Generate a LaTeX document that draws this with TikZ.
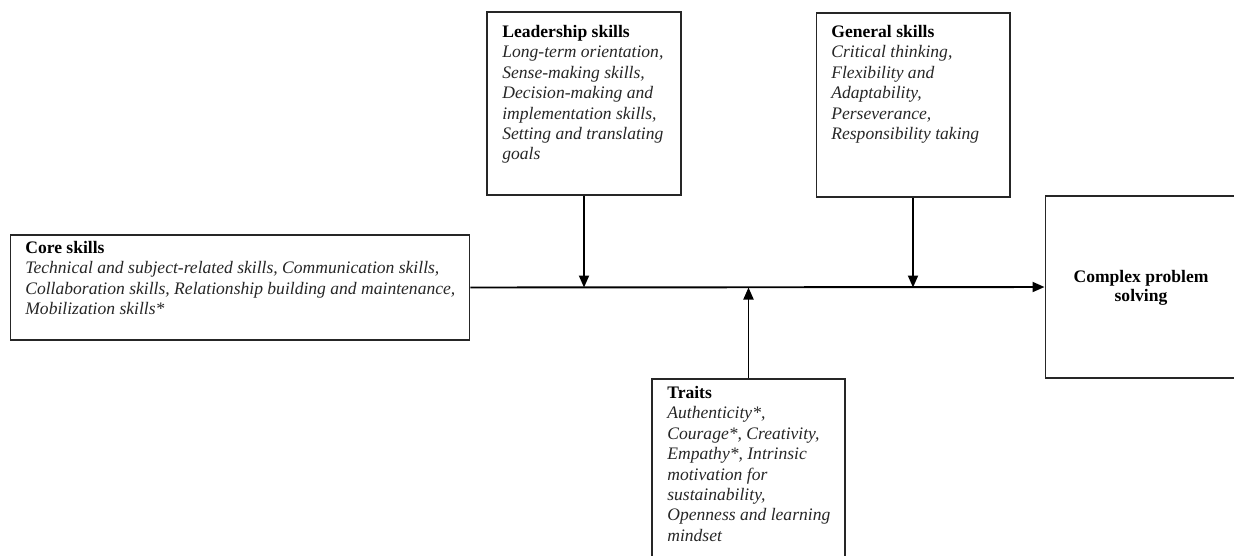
\documentclass[tikz,border=0pt]{standalone}
\usepackage{fontspec}
\setmainfont{Liberation Serif}
\usetikzlibrary{arrows.meta}
\begin{document}
\begin{tikzpicture}[x=0.02cm,y=-0.02cm,
  box/.style={draw=black!85,line width=0.6pt,rectangle,inner sep=0pt},
  txt/.style={anchor=north west,inner sep=0pt,align=left,text=black!85,font=\fontsize{10}{11.6}\selectfont},
  conn/.style={line width=1.1pt,-{Triangle[width=0.2cm,length=0.24cm]}}]
\useasboundingbox (0,0) rectangle (1234,555);
\clip (0,0) rectangle (1234,555);
\node[box,minimum width=9.2cm,minimum height=2.1cm] (core) at (240,287.5) {};
\node[box,minimum width=3.88cm,minimum height=3.66cm] (lead) at (584,103.5) {};
\node[box,minimum width=3.88cm,minimum height=3.68cm] (gen) at (913,105) {};
\node[box,minimum width=4cm,minimum height=3.64cm] (cps) at (1145,287) {};
\node[box,minimum width=3.86cm,minimum height=3.82cm] (trait) at (748.5,474.5) {};

\node[txt] (coret) at (25,241) {\textbf{\color{black}Core skills}\\\itshape Technical and subject-related skills, Communication skills,\\\itshape Collaboration skills, Relationship building and maintenance,\\\itshape Mobilization skills*};
\node[txt] (leadt) at (502,25) {\textbf{\color{black}Leadership skills}\\\itshape Long-term orientation,\\\itshape Sense-making skills,\\\itshape Decision-making and\\\itshape implementation skills,\\\itshape Setting and translating\\\itshape goals};
\node[txt] (gent) at (831,25) {\textbf{\color{black}General skills}\\\itshape Critical thinking,\\\itshape Flexibility and\\\itshape Adaptability,\\\itshape Perseverance,\\\itshape Responsibility taking};
\node[txt] (traitt) at (667,386) {\textbf{\color{black}Traits}\\\itshape Authenticity*,\\\itshape Courage*, Creativity,\\\itshape Empathy*, Intrinsic\\\itshape motivation for\\\itshape sustainability,\\\itshape Openness and learning\\\itshape mindset};
\node[anchor=center,inner sep=0pt,align=center,font=\fontsize{10}{11}\selectfont\bfseries] (cpst) at (1141,288) {Complex problem\\solving};

\draw[conn] (core.east) -- (cps.west);
\draw[conn] (lead.south) -- (lead.south |- core.east);
\draw[conn] (gen.south) -- (gen.south |- core.east);
\draw[conn] (trait.north) -- (trait.north |- core.east);
\end{tikzpicture}
\end{document}
